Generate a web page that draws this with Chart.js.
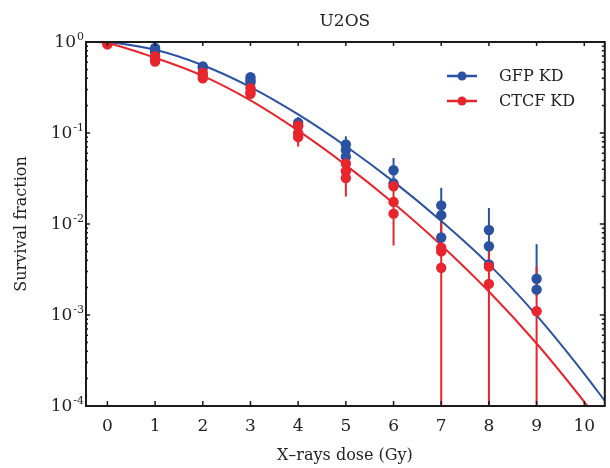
<!DOCTYPE html>
<html lang="en">
<head>
<meta charset="utf-8">
<title>U2OS</title>
<script src="https://cdn.jsdelivr.net/npm/chart.js@4.4.1/dist/chart.umd.min.js"></script>
<style>
    html, body { margin: 0; padding: 0; background: #ffffff; }
    #caixa { width: 610px; height: 468px; }
</style>
</head>
<body>
<div id="caixa"><canvas id="grafico"></canvas></div>
<script>
/* Doses (Gy) e réplicas de sobrevivência */
const doses = [0, 1, 2, 3, 4, 5, 6, 7, 8, 9];
const marcasX = [0, 1, 2, 3, 4, 5, 6, 7, 8, 9, 10];
const expoentesY = [0, -1, -2, -3, -4];
const series = ['GFP KD', 'CTCF KD'];

const gfpPontos = [
    [1.0], [0.86, 0.81, 0.78], [0.54, 0.52], [0.41, 0.38, 0.36], [0.13, 0.12],
    [0.075, 0.065, 0.055], [0.039, 0.028], [0.016, 0.0125, 0.0071],
    [0.0086, 0.0057, 0.0036], [0.0025, 0.0019]
];
const gfpErroMin = [0.97, 0.76, 0.50, 0.34, 0.11, 0.05, 0.025, 0.006, 0.003, 0.0016];
const gfpErroMax = [1.02, 0.90, 0.57, 0.43, 0.15, 0.092, 0.053, 0.025, 0.015, 0.006];

const ctcfPontos = [
    [0.98, 0.94], [0.70, 0.65, 0.61], [0.46, 0.43, 0.40], [0.31, 0.28, 0.27],
    [0.12, 0.10, 0.09], [0.046, 0.038, 0.032], [0.026, 0.0175, 0.013],
    [0.0055, 0.005, 0.0033], [0.0034, 0.0022], [0.0011]
];
const ctcfErroMin = [0.93, 0.56, 0.38, 0.25, 0.071, 0.020, 0.0058, 0.0001, 0.0001, 0.0001];
const ctcfErroMax = [1.0, 0.74, 0.48, 0.33, 0.125, 0.052, 0.030, 0.012, 0.0056, 0.0034];

/* Curvas ajustadas */
const curvaDoses = [-0.47, 0, 1, 2, 3, 4, 5, 6, 7, 8, 9, 10, 10.43];
const gfpCurva = [1.04, 1.0, 0.822, 0.556, 0.32, 0.16, 0.0716, 0.0292, 0.0108, 0.0036, 0.00099, 0.000226, 0.000114];
const ctcfCurva = [1.03, 0.97, 0.671, 0.424, 0.228, 0.106, 0.0444, 0.0169, 0.00585, 0.00181, 0.000486, 0.000111, 0.000056];

const corAzul = '#2b52a2';
const corVermelha = '#e8242c';
const corTexto = '#222222';
const fonte = '"DejaVu Serif", serif';

function pontosDispersao(listas) {
    return doses.flatMap(function (d, i) {
        return listas[i].map(function (v) { return { x: d, y: v }; });
    });
}

function pontosCurva(valores) {
    return curvaDoses.map(function (d, i) { return { x: d, y: valores[i] }; });
}

/* Barras de erro verticais, desenhadas pelas escalas do gráfico */
function desenharBarras(chart, minimos, maximos, cor) {
    const ctx = chart.ctx;
    const x = chart.scales.x;
    const y = chart.scales.y;
    ctx.save();
    ctx.strokeStyle = cor;
    ctx.lineWidth = 2;
    doses.forEach(function (d, i) {
        const px = x.getPixelForValue(d);
        ctx.beginPath();
        ctx.moveTo(px, y.getPixelForValue(minimos[i]));
        ctx.lineTo(px, y.getPixelForValue(maximos[i]));
        ctx.stroke();
    });
    ctx.restore();
}

const molduraPlugin = {
    id: 'moldura',
    beforeDatasetsDraw(chart) {
        desenharBarras(chart, gfpErroMin, gfpErroMax, corAzul);
        desenharBarras(chart, ctcfErroMin, ctcfErroMax, corVermelha);
    },
    afterDraw(chart) {
        const ctx = chart.ctx;
        const area = chart.chartArea;
        const x = chart.scales.x;
        const y = chart.scales.y;

        ctx.save();
        ctx.strokeStyle = '#1a1a1a';
        ctx.lineWidth = 2;
        ctx.strokeRect(area.left + 1, area.top, area.right - area.left - 1, area.bottom - area.top);

        /* marcas do eixo x, para dentro */
        ctx.lineWidth = 1.5;
        marcasX.forEach(function (v) {
            const px = x.getPixelForValue(v);
            ctx.beginPath();
            ctx.moveTo(px, area.bottom);
            ctx.lineTo(px, area.bottom - 5);
            ctx.moveTo(px, area.top);
            ctx.lineTo(px, area.top + 4);
            ctx.stroke();
        });

        /* marcas logarítmicas do eixo y, dos dois lados */
        for (let e = -4; e <= 0; e++) {
            for (let m = 1; m <= 9; m++) {
                const v = m * Math.pow(10, e);
                if (v > 1) break;
                const py = y.getPixelForValue(v);
                const comp = m === 1 ? 5 : 3;
                ctx.beginPath();
                ctx.moveTo(area.left, py);
                ctx.lineTo(area.left + comp, py);
                ctx.moveTo(area.right, py);
                ctx.lineTo(area.right - comp, py);
                ctx.stroke();
            }
        }

        /* rótulos 10^n */
        ctx.fillStyle = corTexto;
        ctx.textBaseline = 'middle';
        expoentesY.forEach(function (e) {
            const py = y.getPixelForValue(Math.pow(10, e));
            const sup = String(e);
            ctx.font = '11px ' + fonte;
            const larguraSup = ctx.measureText(sup).width;
            ctx.textAlign = 'left';
            ctx.fillText(sup, area.left - 1 - larguraSup, py - 5);
            ctx.font = '17px ' + fonte;
            ctx.textAlign = 'right';
            ctx.fillText('10', area.left - 2 - larguraSup, py + 1);
        });

        /* legenda */
        const itens = [
            { nome: series[0], cor: corAzul, y: 76 },
            { nome: series[1], cor: corVermelha, y: 101 }
        ];
        ctx.font = '16px ' + fonte;
        ctx.textAlign = 'left';
        itens.forEach(function (item) {
            ctx.strokeStyle = item.cor;
            ctx.fillStyle = item.cor;
            ctx.lineWidth = 2.5;
            ctx.beginPath();
            ctx.moveTo(447, item.y);
            ctx.lineTo(477, item.y);
            ctx.stroke();
            ctx.beginPath();
            ctx.arc(462, item.y, 4.5, 0, Math.PI * 2);
            ctx.fill();
            ctx.fillStyle = corTexto;
            ctx.fillText(item.nome, 499, item.y + 1);
        });
        ctx.restore();
    }
};

new Chart(document.getElementById('grafico'), {
    type: 'scatter',
    data: {
        datasets: [
            {
                label: series[1],
                data: pontosDispersao(ctcfPontos),
                backgroundColor: corVermelha,
                borderWidth: 0,
                pointRadius: 5.2,
                order: 0
            },
            {
                label: series[0],
                data: pontosDispersao(gfpPontos),
                backgroundColor: corAzul,
                borderWidth: 0,
                pointRadius: 5.2,
                order: 1
            },
            {
                type: 'line',
                label: series[1] + ' ajuste',
                data: pontosCurva(ctcfCurva),
                borderColor: corVermelha,
                borderWidth: 2,
                pointRadius: 0,
                cubicInterpolationMode: 'monotone',
                order: 2
            },
            {
                type: 'line',
                label: series[0] + ' ajuste',
                data: pontosCurva(gfpCurva),
                borderColor: corAzul,
                borderWidth: 2,
                pointRadius: 0,
                cubicInterpolationMode: 'monotone',
                order: 3
            }
        ]
    },
    options: {
        responsive: true,
        maintainAspectRatio: false,
        animation: false,
        layout: {
            padding: { top: 0, right: 3, bottom: 0, left: 0 }
        },
        plugins: {
            legend: { display: false },
            tooltip: { enabled: false },
            title: {
                display: true,
                text: 'U2OS',
                fullSize: false,
                color: corTexto,
                font: { family: fonte, size: 17, weight: 'normal' },
                padding: { top: 11, bottom: 10.6 }
            }
        },
        scales: {
            x: {
                type: 'linear',
                min: -0.47,
                max: 10.43,
                afterBuildTicks: function (escala) {
                    escala.ticks = marcasX.map(function (v) { return { value: v }; });
                },
                afterFit: function (escala) {
                    escala.height = 62;
                },
                grid: { display: false, drawTicks: false },
                border: { display: false },
                ticks: {
                    padding: 10,
                    color: corTexto,
                    font: { family: fonte, size: 17 }
                },
                title: {
                    display: true,
                    text: 'X–rays dose (Gy)',
                    color: corTexto,
                    font: { family: fonte, size: 16 },
                    padding: { top: 0, bottom: 3 }
                }
            },
            y: {
                type: 'logarithmic',
                min: 0.0001,
                max: 1,
                afterFit: function (escala) {
                    escala.width = 85;
                },
                grid: { display: false, drawTicks: false },
                border: { display: false },
                ticks: { display: false },
                title: {
                    display: true,
                    text: 'Survival fraction',
                    color: corTexto,
                    font: { family: fonte, size: 16 },
                    padding: { top: 12, bottom: 0 }
                }
            }
        }
    },
    plugins: [molduraPlugin]
});
</script>
</body>
</html>
